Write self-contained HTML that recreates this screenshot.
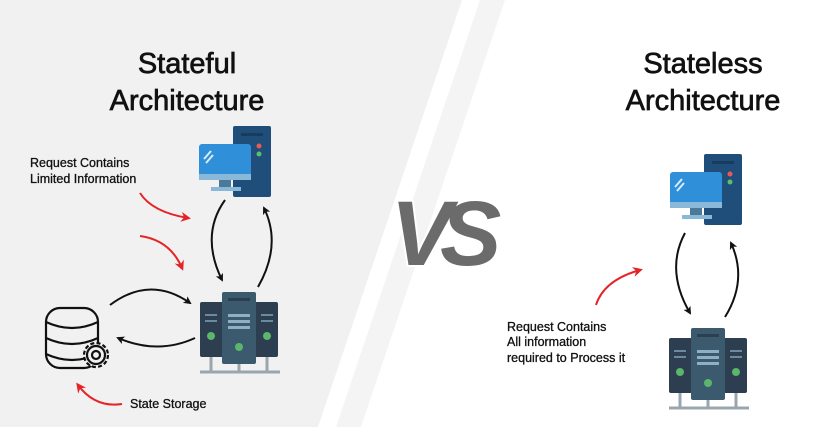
<!DOCTYPE html>
<html><head><style>
body{margin:0;width:823px;height:427px;overflow:hidden;background:#fff}
svg{display:block}
text{font-family:"Liberation Sans",sans-serif}
</style></head><body>
<svg width="823" height="427" viewBox="0 0 823 427" xmlns="http://www.w3.org/2000/svg">
<defs>
<marker id="ab" markerWidth="8" markerHeight="8" refX="6" refY="4" orient="auto" markerUnits="userSpaceOnUse"><path d="M0,0 L8,4 L0,8 L2,4Z" fill="#111"/></marker>
<marker id="ar" markerWidth="10" markerHeight="10" refX="7" refY="5" orient="auto" markerUnits="userSpaceOnUse"><path d="M0,0 L10,5 L0,10 L3,5Z" fill="#e52428"/></marker>
<g id="comp">
<rect x="34" y="0" width="38" height="71" rx="2" fill="#1f4e7a"/>
<rect x="42" y="7" width="22" height="3" fill="#173c5e"/>
<circle cx="60" cy="20" r="2.5" fill="#e75a5a"/><circle cx="60" cy="28" r="2.5" fill="#59c06b"/>
<rect x="0" y="18" width="52" height="36" rx="3" fill="#2f8fd8"/>
<rect x="0" y="48" width="52" height="6" fill="#8ab8d8"/>
<rect x="20" y="54" width="12" height="7" fill="#4b7a98"/>
<rect x="12" y="61" width="30" height="4" fill="#8ab8d8"/>
<path d="M5,33 L12,25 M7,37 L14,29" stroke="#d8ecfb" stroke-width="2"/>
</g>
<g id="serv">
<rect x="0" y="10" width="26" height="55" rx="2" fill="#2c3e50"/>
<rect x="52" y="10" width="26" height="55" rx="2" fill="#2c3e50"/>
<rect x="22" y="0" width="34" height="72" rx="2" fill="#3c5a6e"/>
<rect x="28" y="22" width="22" height="3" fill="#8fb0c4"/><rect x="28" y="28" width="22" height="3" fill="#8fb0c4"/><rect x="28" y="34" width="22" height="3" fill="#8fb0c4"/>
<rect x="28" y="6" width="22" height="3" fill="#2c3e50"/>
<rect x="5" y="22" width="12" height="2" fill="#6a8aa0"/><rect x="5" y="28" width="12" height="2" fill="#6a8aa0"/>
<rect x="61" y="22" width="12" height="2" fill="#6a8aa0"/><rect x="61" y="28" width="12" height="2" fill="#6a8aa0"/>
<circle cx="11" cy="44" r="4" fill="#5bb56a"/><circle cx="67" cy="44" r="4" fill="#5bb56a"/><circle cx="39" cy="55" r="4" fill="#5bb56a"/>
<path d="M11,65 V80 M39,72 V80 M67,65 V80 M0,80 H80" stroke="#9aa6ad" stroke-width="3"/>
</g>
</defs>
<rect width="823" height="427" fill="#fff"/>
<polygon points="0,0 462,0 318,427 0,427" fill="#f1f1f1"/>
<polygon points="480,0 505,0 361,427 336,427" fill="#f4f4f4"/>
<g fill="#111" stroke="#111" stroke-width="0.7" font-size="29" text-anchor="middle">
<text x="187" y="73">Stateful</text>
<text x="187" y="110">Architecture</text>
<text x="703" y="73">Stateless</text>
<text x="703" y="110">Architecture</text>
</g>
<!-- VS -->
<text x="440" y="265" font-size="92" font-weight="bold" font-style="italic" text-anchor="middle" fill="#6b6b6b" stroke="#fff" stroke-width="4" paint-order="stroke" letter-spacing="-12">VS</text>
<!-- left -->
<use href="#comp" x="199" y="126"/>
<use href="#serv" x="200" y="292"/>
<g fill="none" stroke="#111" stroke-width="2.2">
<rect x="46" y="308" width="52" height="60" rx="14" fill="#f1f1f1"/>
<path d="M46,322 Q72,334 98,322 M46,338 Q72,350 98,338 M46,354 Q72,366 98,354"/>
<circle cx="96" cy="355" r="12" fill="#f1f1f1" stroke-dasharray="4 2.3"/><circle cx="96" cy="355" r="9" fill="#f1f1f1"/><circle cx="96" cy="355" r="4"/>
</g>
<g fill="none" stroke="#111" stroke-width="2">
<path d="M225,200 Q200,235 222,280" marker-end="url(#ab)"/>
<path d="M258,287 Q282,245 264,208" marker-end="url(#ab)"/>
<path d="M110,305 Q150,275 190,303" marker-end="url(#ab)"/>
<path d="M195,338 Q158,355 118,338" marker-end="url(#ab)"/>
<path d="M685,233 Q665,270 690,313" marker-end="url(#ab)"/>
<path d="M725,317 Q748,280 731,243" marker-end="url(#ab)"/>
</g>
<g fill="none" stroke="#e52428" stroke-width="2">
<path d="M140,193 Q152,212 188,218" marker-end="url(#ar)"/>
<path d="M140,236 Q170,240 182,268" marker-end="url(#ar)"/>
<path d="M122,404 Q95,408 78,385" marker-end="url(#ar)"/>
<path d="M596,305 Q604,280 640,270" marker-end="url(#ar)"/>
</g>
<g font-size="12.5" fill="#111" stroke="#111" stroke-width="0.3">
<text x="30" y="167">Request Contains</text>
<text x="30" y="183">Limited Information</text>
<text x="130" y="408">State Storage</text>
<text x="507" y="331">Request Contains</text>
<text x="507" y="346">All information</text>
<text x="507" y="362">required to Process it</text>
</g>
<use href="#comp" x="670" y="154"/>
<use href="#serv" x="669" y="328"/>
</svg>
</body></html>
